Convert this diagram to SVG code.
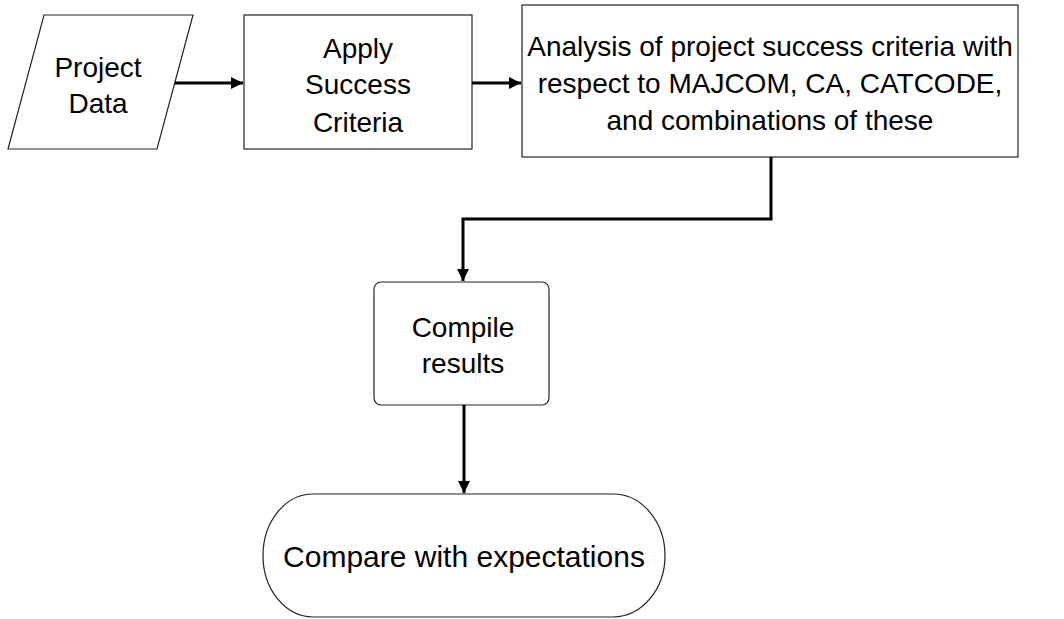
<svg xmlns="http://www.w3.org/2000/svg" width="1064" height="619" viewBox="0 0 1064 619">
<style>
.shape{fill:#fff;stroke:#222;stroke-width:1.2}
.t{font-family:"Liberation Sans",Arial,sans-serif;font-size:28px;fill:#000;text-anchor:middle}
.conn{fill:none;stroke:#000;stroke-width:3}
</style>
<defs>
<marker id="ah" viewBox="0 0 10 10" refX="10" refY="5" markerWidth="4" markerHeight="4" markerUnits="strokeWidth" orient="auto">
<path d="M0,0 L10,5 L0,10 z" fill="#000"/>
</marker>
</defs>
<rect width="1064" height="619" fill="#fff"/>
<g id="project-data">
<polygon class="shape" points="44,15 193,15 157,149 8,149"/>
<text class="t" x="98" y="77">Project</text>
<text class="t" x="98" y="113">Data</text>
</g>
<g id="apply-success">
<rect class="shape" x="244" y="15" width="228" height="134"/>
<text class="t" x="358" y="58">Apply</text>
<text class="t" x="358" y="94">Success</text>
<text class="t" x="358" y="132">Criteria</text>
</g>
<g id="analysis">
<rect class="shape" x="522" y="5" width="496" height="152"/>
<text class="t" x="770" y="56">Analysis of project success criteria with</text>
<text class="t" x="770" y="93">respect to MAJCOM, CA, CATCODE,</text>
<text class="t" x="770" y="130">and combinations of these</text>
</g>
<g id="compile">
<rect class="shape" x="374" y="282" width="175" height="123" rx="7" ry="7"/>
<text class="t" x="463" y="337">Compile</text>
<text class="t" x="463" y="373">results</text>
</g>
<g id="compare">
<path class="shape" d="M313,494 L613,494 A52,61.5 0 0 1 613,617 L313,617 A50,61.5 0 0 1 313,494 Z"/>
<text class="t" x="464" y="567" style="font-size:30px">Compare with expectations</text>
</g>
<g id="connectors">
<line class="conn" x1="175" y1="83" x2="243" y2="83" marker-end="url(#ah)"/>
<line class="conn" x1="472" y1="83" x2="521" y2="83" marker-end="url(#ah)"/>
<polyline class="conn" points="771,157 771,219 463,219 463,281" marker-end="url(#ah)"/>
<line class="conn" x1="464" y1="405" x2="464" y2="493" marker-end="url(#ah)"/>
</g>
</svg>
